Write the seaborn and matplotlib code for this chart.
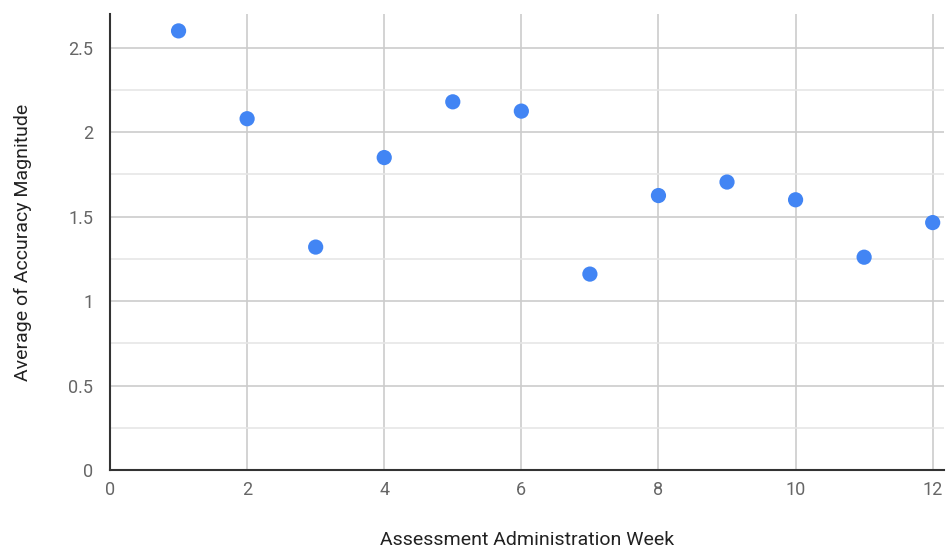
import matplotlib
matplotlib.use("Agg")
import matplotlib.pyplot as plt
import seaborn as sns
import pandas as pd
import numpy as np

weeks = [1, 2, 3, 4, 5, 6, 7, 8, 9, 10, 11, 12]
accuracy = [2.60, 2.08, 1.32, 1.85, 2.18, 2.125, 1.16, 1.625, 1.705, 1.60, 1.26, 1.465]
x_ticks = [0, 2, 4, 6, 8, 10, 12]
y_ticks = [0, 0.5, 1, 1.5, 2, 2.5]
y_minor = [0.25, 0.75, 1.25, 1.75, 2.25]
x_label = "Assessment Administration Week"
y_label = "Average of Accuracy Magnitude"

sns.set_style("white")
plt.rcParams['font.family'] = ['Roboto', 'DejaVu Sans']

df = pd.DataFrame({"week": weeks, "acc": accuracy})

fig = plt.figure(figsize=(9.46, 5.49), dpi=100)
ax = fig.add_axes([110/946, 1 - 470/549, (944 - 110)/946, (470 - 14)/549])

sns.scatterplot(data=df, x="week", y="acc", ax=ax, color="#4285F4", s=120,
                edgecolor="none", linewidth=0, zorder=3)

ax.set_xlim(0, 12.165)
ax.set_ylim(0, 2.70)
ax.set_xticks(x_ticks)
ax.set_yticks(y_ticks)
ax.set_yticks(y_minor, minor=True)
ax.set_xticklabels([str(t) for t in x_ticks])
ax.set_yticklabels(["0", "0.5", "1", "1.5", "2", "2.5"])

ax.grid(True, which="major", axis="both", color="#cccccc", linewidth=1.2)
ax.grid(True, which="minor", axis="y", color="#e6e6e6", linewidth=1.2)
ax.set_axisbelow(True)

ax.tick_params(axis="y", which="major", length=6, color="#cccccc", width=1.2,
               labelsize=13, labelcolor="#666666", pad=6)
ax.tick_params(axis="y", which="minor", length=6, color="#e6e6e6", width=1.2)
ax.tick_params(axis="x", which="major", length=0, labelsize=13, labelcolor="#666666", pad=8)

for s in ["top", "right"]:
    ax.spines[s].set_visible(False)
for s in ["left", "bottom"]:
    ax.spines[s].set_color("#333333")
    ax.spines[s].set_linewidth(1.5)
    ax.spines[s].set_zorder(4)

ax.set_xlabel(x_label, fontsize=14, color="#222222", labelpad=23)
ax.set_ylabel(y_label, fontsize=14, color="#222222", labelpad=26)

fig.savefig("out.png", dpi=100)
